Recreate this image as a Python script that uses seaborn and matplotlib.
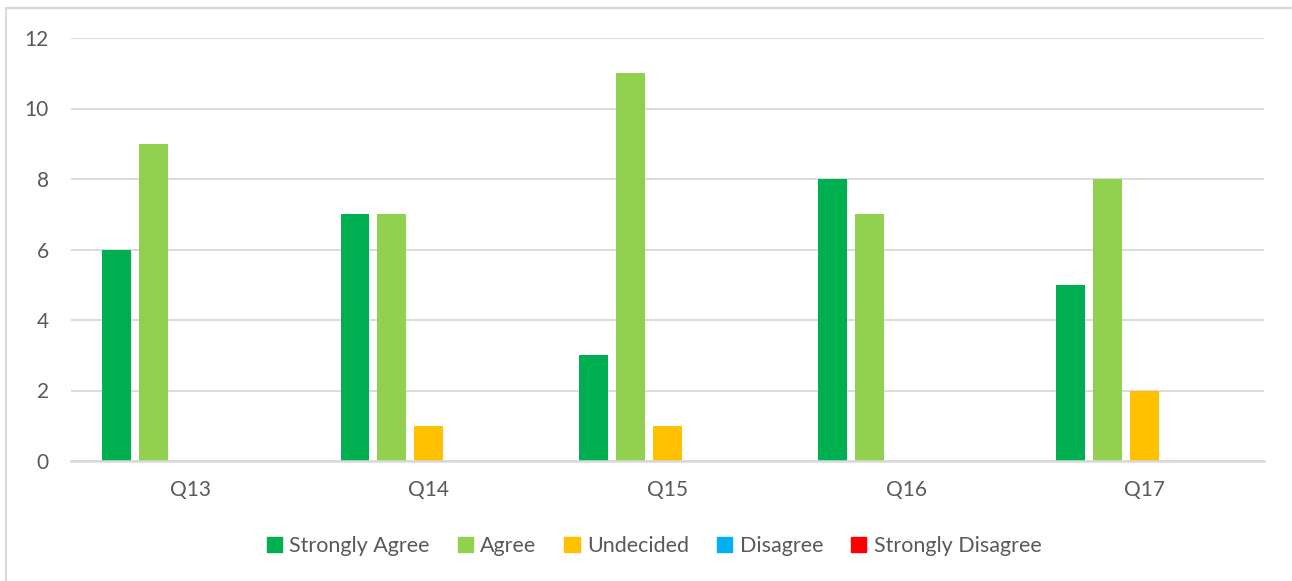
import matplotlib
matplotlib.use("Agg")
import matplotlib.pyplot as plt
import matplotlib.patches as mpatches
import seaborn as sns
import pandas as pd

questions = ["Q13", "Q14", "Q15", "Q16", "Q17"]
responses = ["Strongly Agree", "Agree", "Undecided", "Disagree", "Strongly Disagree"]
strongly_agree = [6, 7, 3, 8, 5]
agree = [9, 7, 11, 7, 8]
undecided = [0, 1, 1, 0, 2]
disagree = [0, 0, 0, 0, 0]
strongly_disagree = [0, 0, 0, 0, 0]
colors = ["#00B050", "#92D050", "#FFC000", "#00B0F0", "#FF0000"]

series = [strongly_agree, agree, undecided, disagree, strongly_disagree]
rows = []
for resp, vals in zip(responses, series):
    for q, v in zip(questions, vals):
        rows.append({"Question": q, "Response": resp, "Count": v})
df = pd.DataFrame(rows)

sns.set_theme(style="white")
plt.rcParams["font.family"] = ["Lato", "DejaVu Sans"]
text_color = "#595959"
grid_color = "#D9D9D9"

fig = plt.figure(figsize=(12.92, 5.81), dpi=100)
ax = fig.add_axes([71 / 1292, 1 - 461 / 581, (1264 - 71) / 1292, (461 - 38) / 581])

sns.barplot(data=df, x="Question", y="Count", hue="Response",
            hue_order=responses, palette=colors, width=0.775, gap=0.22,
            linewidth=0, saturation=1, ax=ax, legend=False)

ax.set_ylim(0, 12)
ax.set_xlim(-0.5, len(questions) - 0.5)
ax.set_yticks(range(0, 13, 2))
ax.yaxis.grid(True, color=grid_color, linewidth=1.3)
ax.set_axisbelow(True)
for side in ["top", "right", "left"]:
    ax.spines[side].set_visible(False)
ax.spines["bottom"].set_color(grid_color)
ax.spines["bottom"].set_linewidth(1.8)
ax.set_xlabel("")
ax.set_ylabel("")
ax.tick_params(axis="both", length=0, labelsize=15, colors=text_color)
ax.tick_params(axis="x", pad=14)
ax.tick_params(axis="y", pad=16)

handles = [mpatches.Patch(color=c, label=r) for c, r in zip(colors, responses)]
leg = fig.legend(handles=handles, loc="center", bbox_to_anchor=(654 / 1292, 1 - 546 / 581),
                 ncol=5, frameon=False, fontsize=15.5, handlelength=0.7, handleheight=0.7,
                 handletextpad=0.35, columnspacing=1.3)
for t in leg.get_texts():
    t.set_color(text_color)

# Chart-area border
fig.add_artist(mpatches.Rectangle((6 / 1292, -0.05), 1.1, 1 - 8 / 581 + 0.05,
                                  transform=fig.transFigure, fill=False,
                                  edgecolor=grid_color, linewidth=1.5))

fig.savefig("out.png", dpi=100)
